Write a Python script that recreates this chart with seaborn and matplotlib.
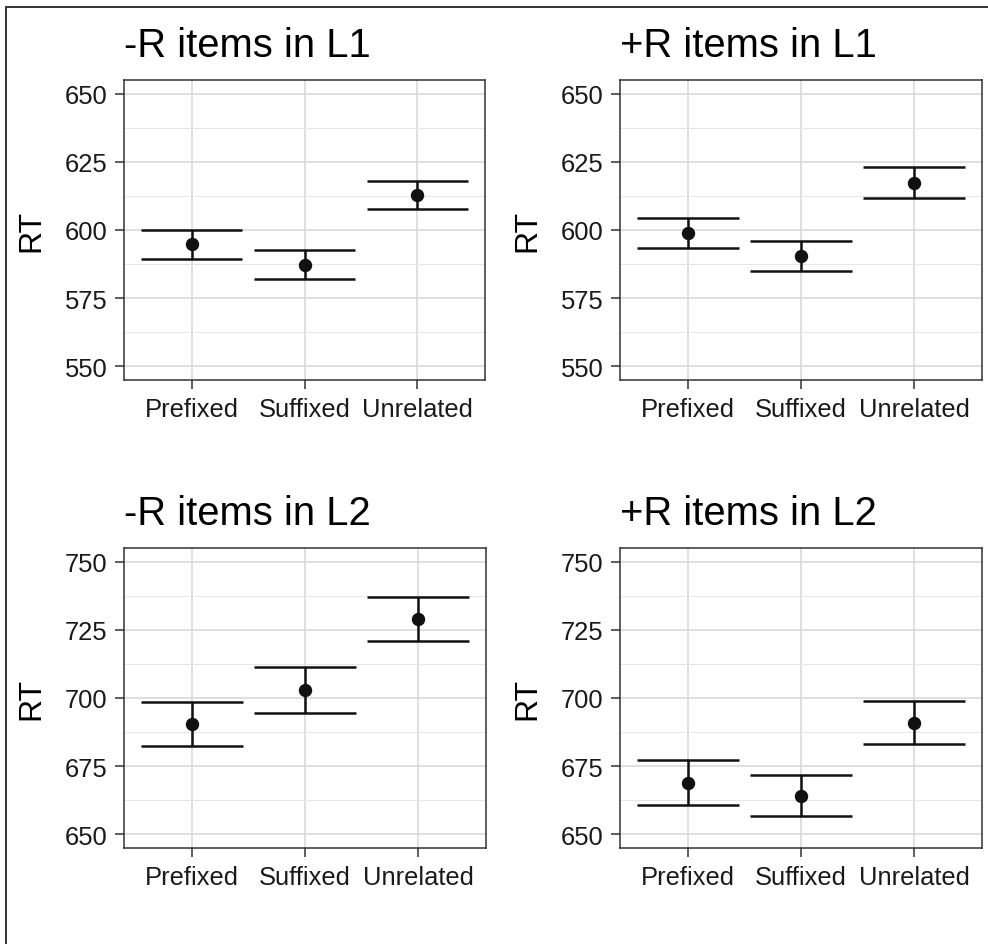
import matplotlib
matplotlib.use("Agg")
import matplotlib.pyplot as plt
from matplotlib.lines import Line2D
from matplotlib.ticker import MultipleLocator
import seaborn as sns
import pandas as pd

# ---- data ----
categories = ["Prefixed", "Suffixed", "Unrelated"]
titles = ["-R items in L1", "+R items in L1", "-R items in L2", "+R items in L2"]

mean_minusR_L1 = [594.9, 587.2, 612.7]
low_minusR_L1 = [589.4, 582.2, 607.6]
high_minusR_L1 = [600.1, 592.6, 617.9]

mean_plusR_L1 = [598.8, 590.3, 617.4]
low_plusR_L1 = [593.3, 584.9, 611.9]
high_plusR_L1 = [604.4, 595.9, 623.1]

mean_minusR_L2 = [690.3, 702.9, 728.8]
low_minusR_L2 = [682.4, 694.5, 720.8]
high_minusR_L2 = [698.4, 711.5, 737.1]

mean_plusR_L2 = [668.9, 664.0, 690.9]
low_plusR_L2 = [660.6, 656.6, 683.0]
high_plusR_L2 = [677.2, 671.8, 699.0]

yticks_L1 = [550, 575, 600, 625, 650]
yticks_L2 = [650, 675, 700, 725, 750]

panels = [
    (titles[0], mean_minusR_L1, low_minusR_L1, high_minusR_L1, yticks_L1),
    (titles[1], mean_plusR_L1, low_plusR_L1, high_plusR_L1, yticks_L1),
    (titles[2], mean_minusR_L2, low_minusR_L2, high_minusR_L2, yticks_L2),
    (titles[3], mean_plusR_L2, low_plusR_L2, high_plusR_L2, yticks_L2),
]

# ---- style ----
sns.set_theme(style="white")
plt.rcParams["font.family"] = ["Liberation Sans", "DejaVu Sans"]

W, H = 988, 945
fig = plt.figure(figsize=(W / 100, H / 100), dpi=100)

# axes boxes in pixels: left, top, right, bottom
boxes = [
    (124, 81, 485, 381),
    (620, 81, 982, 381),
    (124, 549, 486, 849),
    (620, 549, 982, 849),
]

ink = "#111111"
for (title, means, lows, highs, yt), (l, t, r, b) in zip(panels, boxes):
    ax = fig.add_axes([l / W, 1 - b / H, (r - l) / W, (b - t) / H])
    df = pd.DataFrame({"cond": categories, "RT": means, "lo": lows, "hi": highs})

    # error bars
    for i, row in df.iterrows():
        ax.vlines(i, row["lo"], row["hi"], color=ink, linewidth=1.8, zorder=3)
        ax.hlines([row["lo"], row["hi"]], i - 0.45, i + 0.45, color=ink,
                  linewidth=1.8, zorder=3)

    sns.pointplot(data=df, x="cond", y="RT", order=categories, errorbar=None,
                  linestyle="none", color=ink, markersize=7.6, ax=ax, zorder=4)

    ax.set_xlim(-0.6, 2.6)
    ax.set_ylim(yt[0] - 5, yt[-1] + 5)
    ax.set_yticks(yt)
    ax.set_yticklabels([str(v) for v in yt])

    # grid (after seaborn, which disables the categorical grid)
    ax.set_axisbelow(True)
    ax.yaxis.set_minor_locator(MultipleLocator(12.5))
    ax.grid(True, which="major", axis="both", color="#d6d6d6", linewidth=1.1)
    ax.grid(True, which="minor", axis="y", color="#e6e6e6", linewidth=0.7)

    ax.set_xlabel("")
    ax.set_ylabel("RT", fontsize=23, color="black", labelpad=13)
    ax.tick_params(axis="both", which="major", direction="out", length=6.5,
                   width=1.1, color="#333333", labelsize=18.4,
                   labelcolor="#1a1a1a", pad=5.5, left=True, bottom=True)
    ax.tick_params(axis="y", which="minor", length=0)
    for s in ax.spines.values():
        s.set_visible(True)
        s.set_color("#333333")
        s.set_linewidth(1.1)
    ax.set_title(title, loc="left", fontsize=28.8, color="black", pad=17)

# partial outer frame (top and left edges)
fig.add_artist(Line2D([6 / W, 1], [1 - 8 / H, 1 - 8 / H], transform=fig.transFigure,
                      color="#333333", linewidth=1.4))
fig.add_artist(Line2D([6 / W, 6 / W], [0, 1 - 8 / H], transform=fig.transFigure,
                      color="#333333", linewidth=1.4))

fig.savefig("out.png", dpi=100, facecolor="white")
